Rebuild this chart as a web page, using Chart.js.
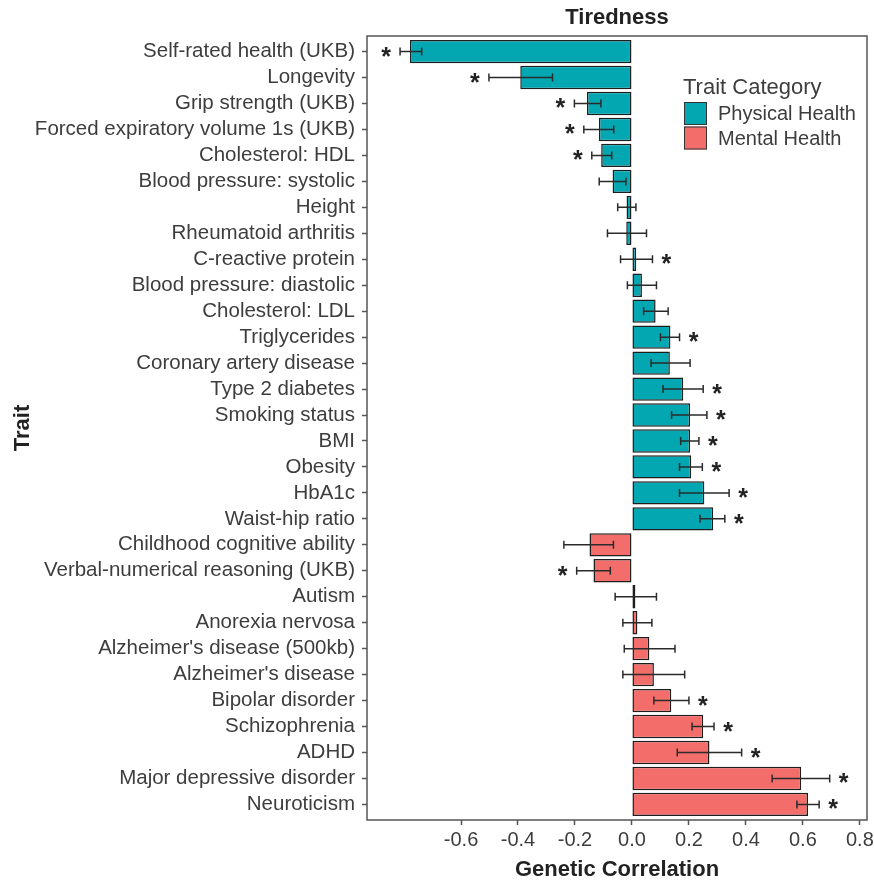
<!DOCTYPE html>
<html><head><meta charset="utf-8">
<script src="https://cdn.jsdelivr.net/npm/chart.js@4.4.1/dist/chart.umd.min.js"></script>
<style>html,body{margin:0;padding:0;background:#fff;} #wrap{width:874px;height:883px;}</style>
</head><body><div id="wrap"><canvas id="c" width="874" height="883"></canvas></div>
<script>
const traits = [
  'Self-rated health (UKB)','Longevity','Grip strength (UKB)','Forced expiratory volume 1s (UKB)',
  'Cholesterol: HDL','Blood pressure: systolic','Height','Rheumatoid arthritis','C-reactive protein',
  'Blood pressure: diastolic','Cholesterol: LDL','Triglycerides','Coronary artery disease',
  'Type 2 diabetes','Smoking status','BMI','Obesity','HbA1c','Waist-hip ratio',
  'Childhood cognitive ability','Verbal-numerical reasoning (UKB)','Autism','Anorexia nervosa',
  "Alzheimer's disease (500kb)","Alzheimer's disease",'Bipolar disorder','Schizophrenia','ADHD',
  'Major depressive disorder','Neuroticism'
];
const correlations = [-0.779,-0.392,-0.158,-0.116,-0.108,-0.068,-0.019,-0.020,0.015,0.035,
  0.083,0.135,0.133,0.180,0.204,0.204,0.208,0.254,0.285,
  -0.149,-0.135,0.012,0.019,0.061,0.077,0.138,0.250,0.272,0.594,0.618];
const ciLower = [-0.814,-0.502,-0.202,-0.169,-0.141,-0.115,-0.050,-0.086,-0.040,-0.016,
  0.041,0.100,0.067,0.109,0.139,0.171,0.167,0.167,0.239,
  -0.239,-0.194,-0.059,-0.032,-0.027,-0.032,0.077,0.211,0.159,0.492,0.579];
const ciUpper = [-0.738,-0.279,-0.109,-0.064,-0.071,-0.021,0.014,0.051,0.072,0.086,
  0.127,0.167,0.204,0.250,0.263,0.235,0.247,0.341,0.326,
  -0.065,-0.076,0.086,0.070,0.151,0.185,0.200,0.288,0.385,0.694,0.657];
const significant = [1,1,1,1,1,0,0,0,1,0, 0,1,0,1,1,1,1,1,1, 0,1,0,0,0,0,1,1,1,1,1];
const traitCategory = [
  'Physical Health','Physical Health','Physical Health','Physical Health','Physical Health',
  'Physical Health','Physical Health','Physical Health','Physical Health','Physical Health',
  'Physical Health','Physical Health','Physical Health','Physical Health','Physical Health',
  'Physical Health','Physical Health','Physical Health','Physical Health',
  'Mental Health','Mental Health','Mental Health','Mental Health','Mental Health','Mental Health',
  'Mental Health','Mental Health','Mental Health','Mental Health','Mental Health'
];
const categoryNames = ['Physical Health','Mental Health'];
const categoryColors = ['#03A7B2','#F36E6A'];
const xTicks = [-0.6,-0.4,-0.2,0.0,0.2,0.4,0.6,0.8];
const chartTitle = 'Tiredness';

const FONT = "'Liberation Sans', Arial, sans-serif";
const TXT = '#3d3d3d';

const overlay = {
  id: 'overlay',
  afterDatasetsDraw(chart) {
    const {ctx, chartArea: a, scales: {x, y}} = chart;
    ctx.save();
    ctx.strokeStyle = '#2b2b2b';
    ctx.lineWidth = 1.5;
    traits.forEach((t, i) => {
      const yp = y.getPixelForValue(i);
      const x1 = x.getPixelForValue(ciLower[i]);
      const x2 = x.getPixelForValue(ciUpper[i]);
      ctx.beginPath();
      ctx.moveTo(x1, yp); ctx.lineTo(x2, yp);
      ctx.moveTo(x1, yp - 4); ctx.lineTo(x1, yp + 4);
      ctx.moveTo(x2, yp - 4); ctx.lineTo(x2, yp + 4);
      ctx.stroke();
      if (significant[i]) {
        const sx = correlations[i] >= 0 ? x2 + 14 : x1 - 14;
        ctx.fillStyle = '#222';
        ctx.font = 'bold 25px ' + FONT;
        ctx.textAlign = 'center';
        ctx.textBaseline = 'alphabetic';
        ctx.fillText('*', sx, yp + 13);
      }
    });
    ctx.strokeStyle = '#555';
    ctx.lineWidth = 1.5;
    ctx.strokeRect(a.left, a.top, a.width, a.height);
    // title
    ctx.fillStyle = '#222';
    ctx.textAlign = 'center';
    ctx.textBaseline = 'middle';
    ctx.font = 'bold 22px ' + FONT;
    ctx.fillText(chartTitle, (a.left + a.right) / 2, 18);
    // legend
    ctx.fillStyle = TXT;
    ctx.textAlign = 'left';
    ctx.font = '22px ' + FONT;
    ctx.fillText('Trait Category', 683, 88);
    ctx.font = '20px ' + FONT;
    categoryNames.forEach((n, k) => {
      const ky = 102 + k * 24.5;
      ctx.fillStyle = categoryColors[k];
      ctx.fillRect(684, ky, 23, 23);
      ctx.strokeStyle = '#333';
      ctx.lineWidth = 1;
      ctx.strokeRect(684.5, ky + 0.5, 22, 22);
      ctx.fillStyle = TXT;
      ctx.fillText(n, 718, ky + 12.5);
    });
    ctx.restore();
  }
};

new Chart(document.getElementById('c'), {
  type: 'bar',
  data: {
    datasets: [{
      data: traits.map((t, i) => ({x: correlations[i], y: i})),
      backgroundColor: traits.map((t, i) => categoryColors[categoryNames.indexOf(traitCategory[i])]),
      borderColor: '#1e1e1e',
      borderWidth: 1.5,
      borderSkipped: false,
      barPercentage: 0.9,
      categoryPercentage: 1.0
    }]
  },
  options: {
    indexAxis: 'y',
    responsive: false,
    animation: false,
    devicePixelRatio: 1,
    layout: {padding: {left: 0, right: 7, top: 36, bottom: 0}},
    plugins: {
      legend: {display: false},
      tooltip: {enabled: false},
      title: {display: false}
    },
    scales: {
      x: {
        type: 'linear', min: -0.93, max: 0.825,
        afterBuildTicks: s => { s.ticks = xTicks.map(v => ({value: v})); },
        ticks: {callback: v => Number(v).toFixed(1), color: TXT, font: {family: FONT, size: 20}, padding: 3},
        grid: {drawOnChartArea: false, tickLength: 5, color: '#555', tickWidth: 1.5},
        border: {display: false},
        title: {display: true, text: 'Genetic Correlation', color: '#222',
          font: {family: FONT, size: 22, weight: 'bold'}, padding: {top: 0, bottom: 0}},
        afterFit: s => { s.height = 63; s.paddingLeft = 0; s.paddingRight = 0; }
      },
      y: {
        type: 'linear', reverse: true, min: -0.6, max: 29.6, offset: false,
        afterBuildTicks: s => { s.ticks = traits.map((t, i) => ({value: i})); },
        ticks: {callback: v => traits[v], autoSkip: false, color: TXT, font: {family: FONT, size: 20.5}, padding: 7},
        grid: {drawOnChartArea: false, offset: false, tickLength: 5, color: '#555', tickWidth: 1.5},
        border: {display: false},
        title: {display: true, text: 'Trait', color: '#222',
          font: {family: FONT, size: 22, weight: 'bold'}, padding: {top: 10, bottom: 0}},
        afterFit: s => { s.width = 367; s.paddingTop = 0; s.paddingBottom = 0; }
      }
    }
  },
  plugins: [overlay]
});
</script></body></html>
